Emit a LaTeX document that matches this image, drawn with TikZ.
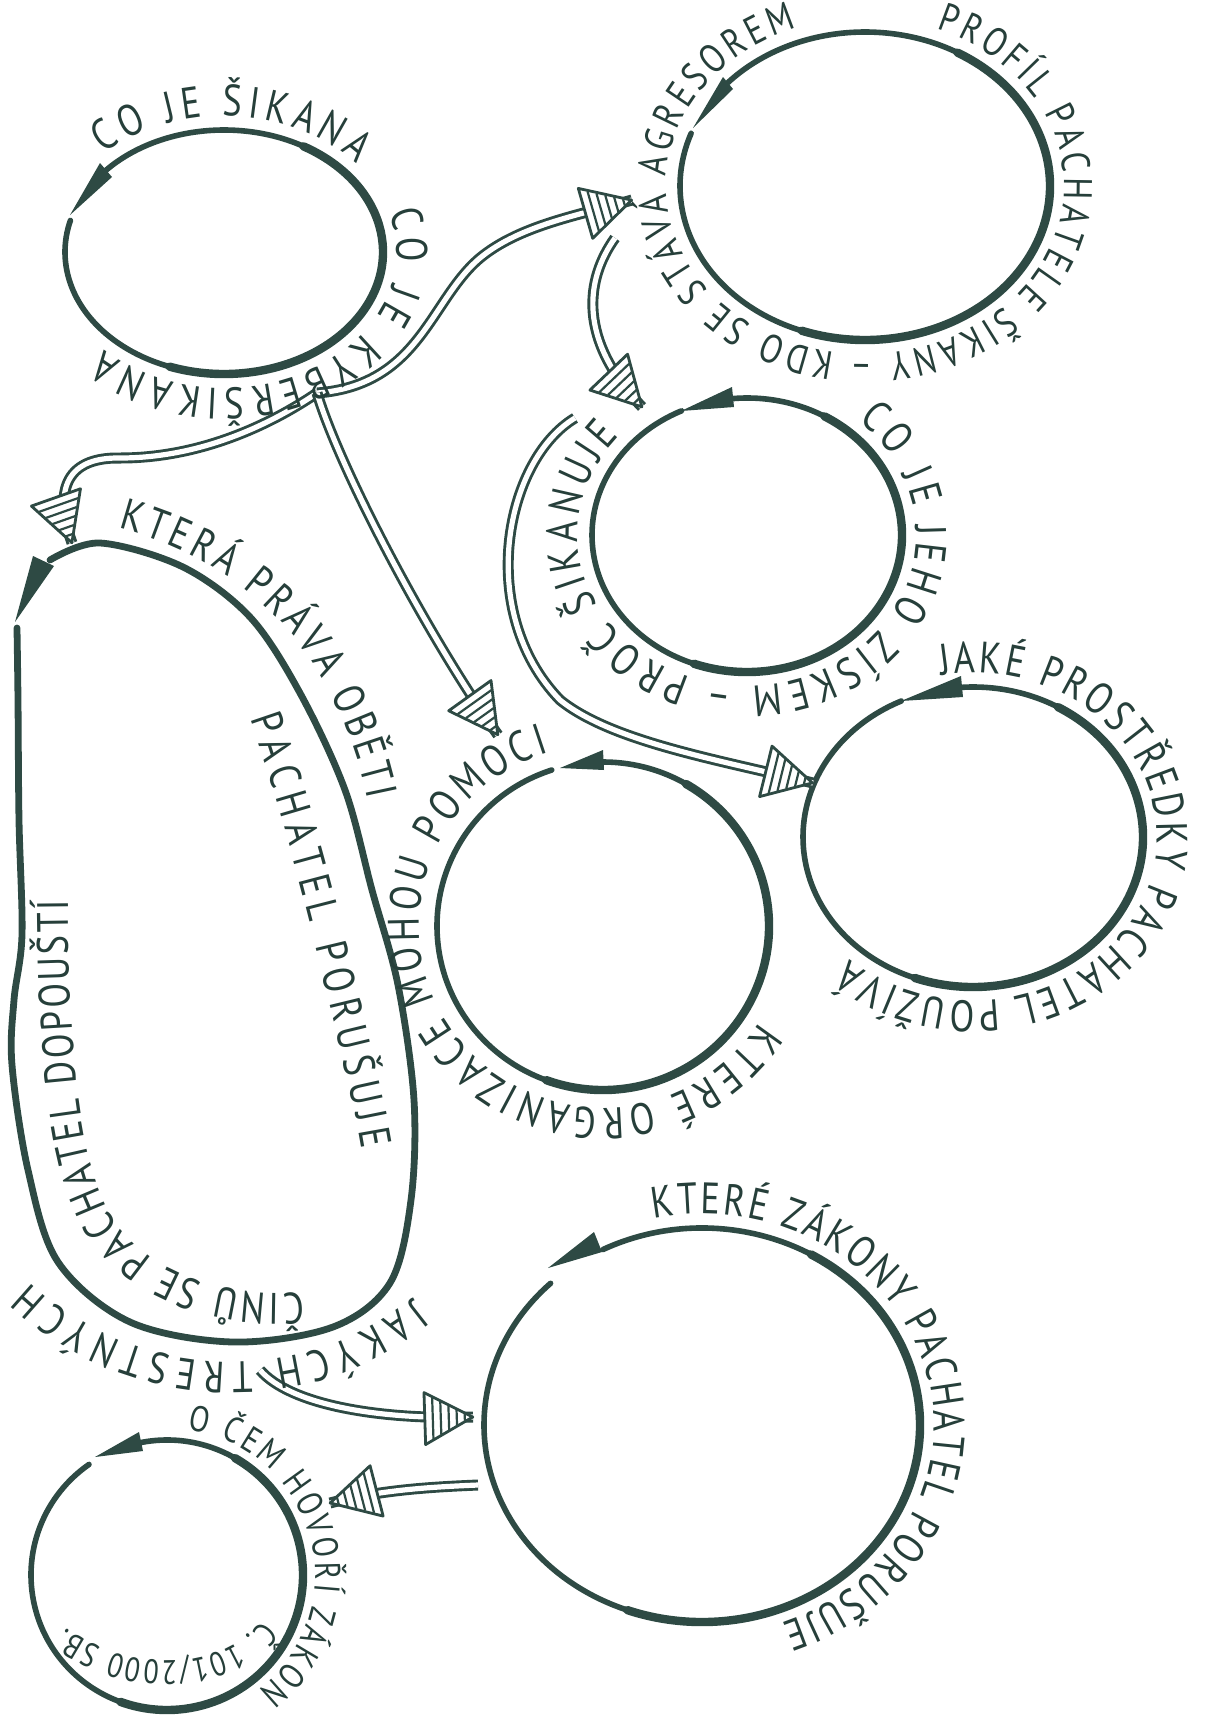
\documentclass[tikz,border=0pt]{standalone}
\usepackage{fontspec}
\newfontfamily\hand[FakeStretch=0.82]{PT Sans}
\usetikzlibrary{decorations.text,decorations.markings,shapes.geometric,calc}
\definecolor{ink}{HTML}{2E4A44}
\definecolor{tink}{HTML}{263F3A}
\newcommand\handf{\hand\fontsize{22}{22}\selectfont}
\newcommand\handh{\hand\fontsize{20}{20}\selectfont}
\newcommand\handg{\hand\fontsize{18}{18}\selectfont}
\newcommand\handk{\hand\fontsize{17}{17}\selectfont}
\newcommand\hatchhead{%
 \filldraw[fill=white,draw=ink,line width=1.4pt,line join=round] (0pt,0pt) -- (-24pt,13pt) -- (-24pt,-13pt) -- cycle;
 \draw[ink,line width=1.1pt] (-20pt,10.3pt) -- (-20pt,-10.3pt) (-16pt,8.1pt) -- (-16pt,-8.1pt) (-12pt,6pt) -- (-12pt,-6pt) (-8pt,3.9pt) -- (-8pt,-3.9pt) (-4pt,1.7pt) -- (-4pt,-1.7pt);
}
\tikzset{
 bubble/.style={ellipse, inner sep=0pt, draw=none},
 ring/.style={draw=ink, line width=2.8pt, line cap=round, line join=round},
 ringthick/.style={draw=ink, line width=4.2pt, line cap=round},
 conn/.style={draw=ink, line width=5.5pt, postaction={draw=white, line width=2.6pt}, postaction={decorate, decoration={markings, mark=at position 0.999 with {\hatchhead}}}},
 ctext/.style={decorate, decoration={text along path, text align={fit to path}, text color=tink, text={#1}}},
}
\begin{document}
\begin{tikzpicture}[x=0.5pt,y=-0.5pt]
\fill[white] (0,0) rectangle (1208,1719);
\useasboundingbox (0,0) rectangle (1208,1719);

% bubbles
\node[bubble, minimum width=159pt, minimum height=122pt] (c1) at (224,252) {};
\node[bubble, minimum width=185pt, minimum height=154pt] (c2) at (865,186) {};
\node[bubble, minimum width=155pt, minimum height=137pt] (c3) at (747,535) {};
\node[bubble, minimum width=200pt, minimum height=400pt] (c4) at (210,940) {};
\node[bubble, minimum width=166pt, minimum height=164pt] (c5) at (603,926) {};
\node[bubble, minimum width=170pt, minimum height=150pt] (c6) at (973,837) {};
\node[bubble, minimum width=218pt, minimum height=197pt] (c7) at (702,1425) {};
\node[bubble, minimum width=136pt, minimum height=135pt] (c8) at (167,1575) {};

% outlines
\draw[ring, shift={(c1.center)}] (222:159 and 122) arc[start angle=222, end angle=555, x radius=159, y radius=122];
\draw[ringthick, shift={(c1.center)}] (300:159 and 122) arc[start angle=300, end angle=470, x radius=159, y radius=122];
\fill[ink] (70,215) -- (100,163) -- (112,177) -- cycle;

\draw[ring, shift={(c2.center)}] (222:185 and 154) arc[start angle=222, end angle=560, x radius=185, y radius=154];
\draw[ringthick, shift={(c2.center)}] (300:185 and 154) arc[start angle=300, end angle=470, x radius=185, y radius=154];
\fill[ink] (693,128) -- (723,77) -- (733,89) -- cycle;

\draw[ring, shift={(c3.center)}] (265:155 and 137) arc[start angle=265, end angle=605, x radius=155, y radius=137];
\draw[ringthick, shift={(c3.center)}] (300:155 and 137) arc[start angle=300, end angle=470, x radius=155, y radius=137];
\fill[ink] (681,411) -- (732,387) -- (734,407) -- cycle;

\draw[ring, shift={(c5.center)}] (270:166 and 164) arc[start angle=270, end angle=612, x radius=166, y radius=164];
\draw[ringthick, shift={(c5.center)}] (300:166 and 164) arc[start angle=300, end angle=470, x radius=166, y radius=164];
\fill[ink] (560,768) -- (603,750) -- (604,770) -- cycle;

\draw[ring, shift={(c6.center)}] (266:170 and 150) arc[start angle=266, end angle=605, x radius=170, y radius=150];
\draw[ringthick, shift={(c6.center)}] (300:170 and 150) arc[start angle=300, end angle=470, x radius=170, y radius=150];
\fill[ink] (901,701) -- (961,676) -- (963,697) -- cycle;

\draw[ring, shift={(c7.center)}] (243:218 and 197) arc[start angle=243, end angle=586, x radius=218, y radius=197];
\draw[ringthick, shift={(c7.center)}] (300:218 and 197) arc[start angle=300, end angle=470, x radius=218, y radius=197];
\fill[ink] (548,1268) -- (594,1232) -- (602,1252) -- cycle;

\draw[ring, shift={(c8.center)}] (259:136 and 135) arc[start angle=259, end angle=595, x radius=136, y radius=135];
\draw[ringthick, shift={(c8.center)}] (300:136 and 135) arc[start angle=300, end angle=470, x radius=136, y radius=135];
\fill[ink] (95,1457) -- (139,1432) -- (143,1451) -- cycle;

% blob
\draw[ring, line width=3.4pt] plot[smooth, tension=0.55] coordinates {(50,560) (100,543) (183,567) (250,617) (300,693) (345,790) (372,890) (398,985) (414,1100) (411,1200) (390,1283) (333,1327) (233,1342) (130,1322) (58,1262) (28,1170) (12,1065) (14,1000) (22,935) (19,820) (18,700) (17,628)};
\fill[ink] (15,622) -- (33,556) -- (54,566) -- cycle;

% connector ends
\coordinate (j1) at (317,393);
\coordinate (t2) at (632,200);
\coordinate (tb) at (72,543);
\coordinate (t5) at (498,735);
\coordinate (j2) at (615,238);
\coordinate (t3) at (642,407);
\coordinate (j3) at (575,418);
\coordinate (t6) at (813,783);
\coordinate (j4) at (260,1370);
\coordinate (t7) at (473,1417);
\coordinate (j5) at (478,1485);
\coordinate (t8) at (330,1503);

\draw[conn] (j1) .. controls (420,385) and (430,300) .. (480,258) .. controls (520,225) and (580,215) .. (t2);
\draw[conn] (j1) .. controls (270,425) and (200,458) .. (120,458) .. controls (62,457) and (55,495) .. (tb);
\draw[conn] (j1) .. controls (340,470) and (430,640) .. (t5);
\draw[conn] (j2) .. controls (585,280) and (578,340) .. (t3);
\draw[conn] (j3) .. controls (505,460) and (475,612) .. (560,700) .. controls (612,742) and (720,760) .. (t6);
\draw[conn] (j4) .. controls (290,1405) and (380,1420) .. (t7);
\draw[conn] (j5) .. controls (430,1487) and (380,1490) .. (t8);

% texts on bubbles
\path[ctext={|\handf|CO JE ŠIKANA}, shift={(c1.center)}] (226:173 and 136) arc[start angle=226, end angle=320, x radius=173, y radius=136];
\path[ctext={|\handf|CO JE KYBERŠIKANA}, shift={(c1.center)}] (343:173 and 136) arc[start angle=343, end angle=494, x radius=173, y radius=136];
\path[ctext={|\handh|PROFÍL PACHATELE ŠIKANY – KDO SE STÁVÁ AGRESOREM}, shift={(c2.center)}] (291:199 and 168) arc[start angle=291, end angle=610, x radius=199, y radius=168];
\path[ctext={|\handf|CO JE JEHO ZÍSKEM – PROČ ŠIKANUJE}, shift={(c3.center)}] (311:169 and 151) arc[start angle=311, end angle=581, x radius=169, y radius=151];
\path[ctext={|\handf|KTERÉ ORGANIZACE MOHOU POMOCI}, shift={(c5.center)}] (32:184 and 182) arc[start angle=32, end angle=253, x radius=184, y radius=182];
\path[ctext={|\handf|JAKÉ PROSTŘEDKY PACHATEL POUŽÍVÁ}, shift={(c6.center)}] (260:184 and 164) arc[start angle=260, end angle=492, x radius=184, y radius=164];
\path[ctext={|\handf|KTERÉ ZÁKONY PACHATEL PORUŠUJE}, shift={(c7.center)}] (258:232 and 211) arc[start angle=258, end angle=430, x radius=232, y radius=211];
\path[ctext={|\handg|O ČEM HOVOŘÍ ZÁKON}, shift={(c8.center)}] (278:148 and 147) arc[start angle=278, end angle=412, x radius=148, y radius=147];
\path[ctext={|\handk|Č. 101/2000 SB.}] (262,1620) .. controls (224,1670) and (132,1676) .. (66,1628);

% texts on blob
\path[ctext={|\handf|KTERÁ PRÁVA OBĚTI}] (118,528) .. controls (195,548) and (270,595) .. (312,662) .. controls (340,708) and (358,750) .. (368,800);
\path[ctext={|\handf|PACHATEL PORUŠUJE}] (250,718) .. controls (275,790) and (300,880) .. (318,955) .. controls (335,1030) and (352,1090) .. (362,1150);
\path[ctext={|\handf|JAKÝCH TRESTNÝCH}] (412,1298) .. controls (360,1340) and (300,1362) .. (235,1362) .. controls (150,1362) and (80,1330) .. (30,1282);
\path[ctext={|\handf|ČINŮ SE PACHATEL DOPOUŠTÍ}] (303,1292) .. controls (240,1298) and (170,1280) .. (130,1240) .. controls (90,1200) and (70,1120) .. (68,900);
\end{tikzpicture}
\end{document}
